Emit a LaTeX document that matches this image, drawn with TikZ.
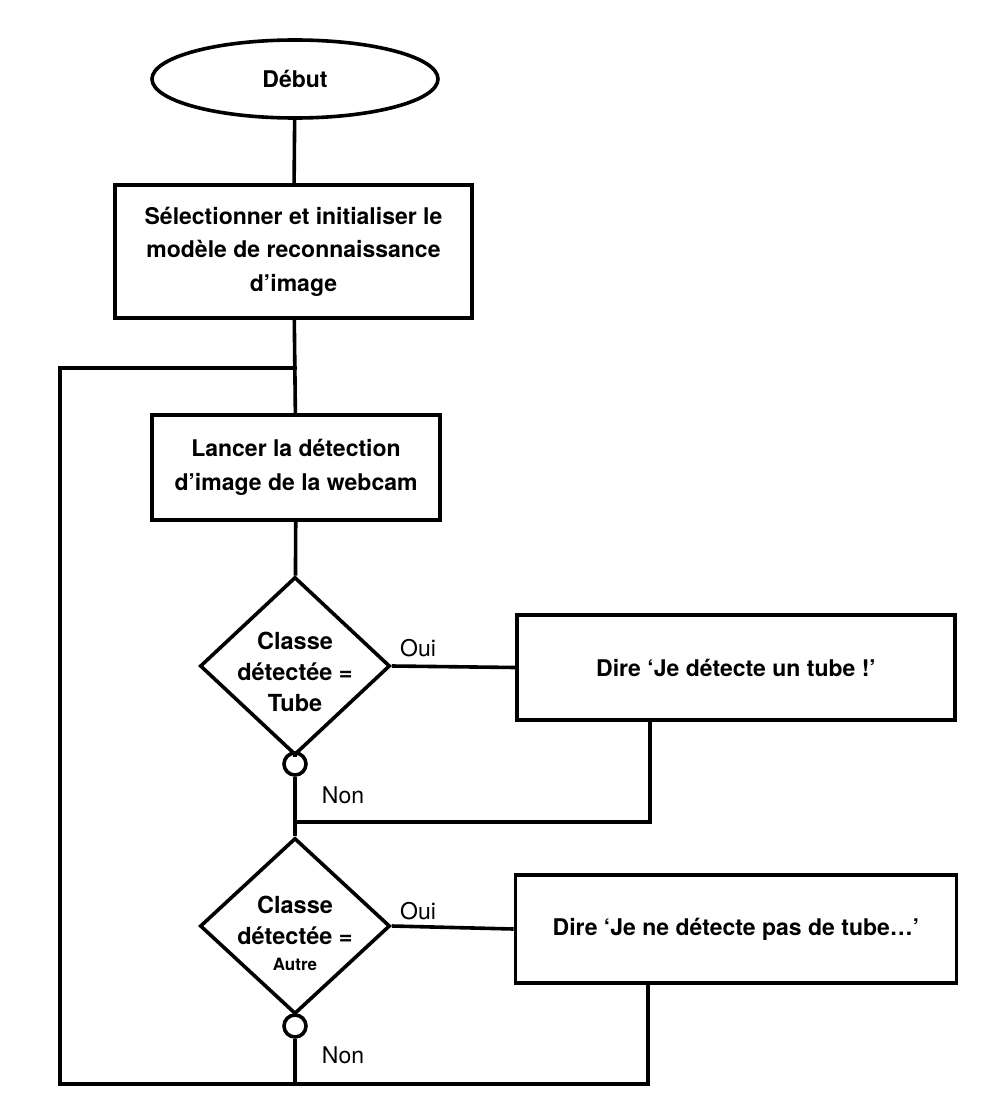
\documentclass[tikz,border=0pt]{standalone}
\usepackage{fontspec}
\setmainfont{TeX Gyre Heros}
\usetikzlibrary{shapes.geometric}
\begin{document}
\begin{tikzpicture}[x=1pt,y=-1pt,
  every path/.style={line width=3.6pt},
  box/.style={draw, rectangle, line width=3.6pt, inner sep=0pt, align=center,
    font=\fontsize{23}{33.5}\selectfont\bfseries},
  term/.style={draw, ellipse, line width=3.6pt, inner sep=0pt,
    font=\fontsize{23}{26}\selectfont\bfseries},
  dec/.style={draw, diamond, line width=3.6pt, inner sep=0pt, aspect=1},
  dectext/.style={align=center, font=\fontsize{23.5}{31}\selectfont\bfseries},
  conn/.style={draw, circle, line width=3.6pt, inner sep=0pt, minimum size=22pt},
  lbl/.style={font=\fontsize{23}{26}\selectfont}
]
\useasboundingbox (0,0) rectangle (988,1118);

\node[term, minimum width=286pt, minimum height=78pt] (debut) at (295,79) {Début};
\node[box, minimum width=357pt, minimum height=133pt] (b1) at (293.5,251.5)
  {Sélectionner et initialiser le\\modèle de reconnaissance\\d’image};
\node[box, minimum width=288pt, minimum height=105pt] (b2) at (296,467.5)
  {Lancer la détection\\d’image de la webcam};

\node[dec, minimum width=190pt, minimum height=178pt] (d1) at (295,666) {};
\node[dectext] (t1) at (295,672) {Classe\\détectée =\\Tube};
\node[conn] (o1) at (295,764) {};

\node[box, minimum width=438pt, minimum height=105pt] (b3) at (736,667.5)
  {Dire ‘Je détecte un tube !’};

\node[dec, minimum width=190pt, minimum height=176pt] (d2) at (295,926) {};
\node[dectext] (t2) at (295,933) {Classe\\détectée =\\[-5pt]{\fontsize{17}{20}\selectfont Autre}};
\node[conn] (o2) at (295,1026) {};

\node[box, minimum width=441pt, minimum height=108pt] (b4) at (736,929)
  {Dire ‘Je ne détecte pas de tube…’};

\node[lbl] (oui1) at (418,648) {Oui};
\node[lbl] (non1) at (343,795) {Non};
\node[lbl] (oui2) at (418,911) {Oui};
\node[lbl] (non2) at (343,1055) {Non};

\coordinate (j1) at (295,368);
\coordinate (cl1) at (60,368);
\coordinate (cl2) at (60,1084);
\coordinate (j2) at (295,822);
\coordinate (r1) at (650,822);
\coordinate (j3) at (295,1084);
\coordinate (r2) at (648,1084);

\draw (debut) -- (b1);
\draw (b1) -- (b2);
\draw[line cap=rect] (j1) -- (cl1) -- (cl2) -- (j3);
\draw (b2) -- (d1);
\draw (d1) -- (o1);
\draw (d1.east) -- (b3.west);
\draw (b3.south -| r1) -- (r1) -- (j2);
\draw (o1) -- (d2);
\draw (d2.east) -- (b4.west);
\draw (o2) -- (j3);
\draw (b4.south -| r2) -- (r2) -- (j3);
\end{tikzpicture}
\end{document}
